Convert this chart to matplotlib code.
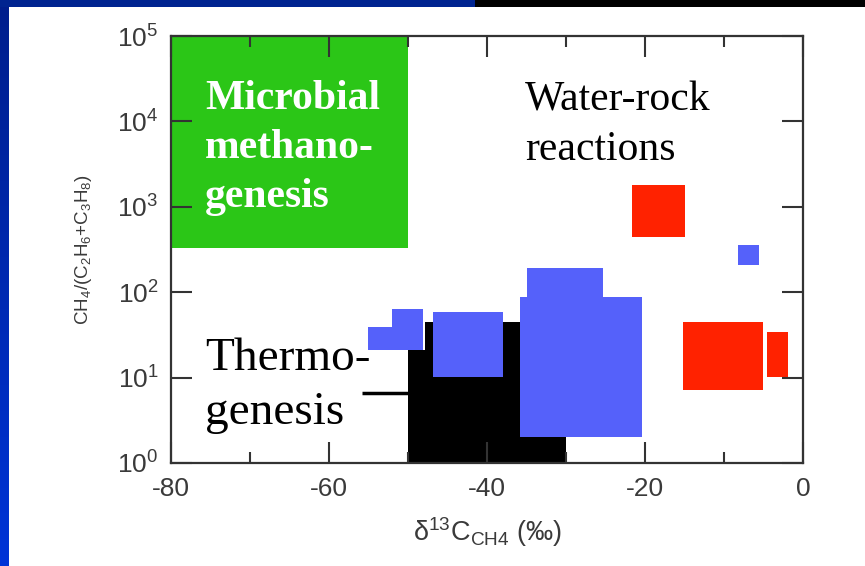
import numpy as np
import matplotlib.pyplot as plt
from matplotlib.patches import Rectangle
from matplotlib.ticker import FixedLocator, NullLocator

plt.rcParams['font.family'] = ['Liberation Sans', 'DejaVu Sans']
plt.rcParams['mathtext.fontset'] = 'custom'
plt.rcParams['mathtext.rm'] = 'Liberation Sans'
plt.rcParams['mathtext.it'] = 'Liberation Sans:italic'
plt.rcParams['axes.unicode_minus'] = False

# boxes: (x0, x1) in d13C, (lo, hi) in CH4/(C2H6+C3H8)
green_x = [-80, -50]
green_y = [330, 1e5]

black_x0 = [-50, -47.8, -35.8]
black_x1 = [-47.8, -35.8, -30]
black_lo = [1, 1, 1]
black_hi = [21, 45, 45]

blue_x0 = [-55.1, -52.0, -46.8, -35.8, -34.9, -8.2]
blue_x1 = [-48.1, -48.1, -38.0, -20.4, -25.3, -5.6]
blue_lo = [21, 21, 10.2, 2.0, 2.0, 210]
blue_hi = [39, 63, 59, 88, 190, 355]

red_x0 = [-21.6, -15.2, -4.6]
red_x1 = [-14.9, -5.1, -1.9]
red_lo = [443, 7.2, 10.2]
red_hi = [1810, 45, 34]

thermo_line_x = [-55.8, -50]
thermo_line_y = [6.6, 6.6]

x_ticks = [-80, -60, -40, -20, 0]
x_minor = [-70, -50, -30, -10]
y_ticks = [1, 10, 100, 1000, 1e4, 1e5]

W, H = 865, 566
fig = plt.figure(figsize=(W / 100, H / 100), dpi=100)
fig.patch.set_facecolor('white')

# slide frame
sax = fig.add_axes([0, 0, 9 / W, 1])
grad = np.linspace(0, 1, 256)[:, None]
top_c = np.array([0, 30, 140]) / 255
bot_c = np.array([0, 52, 215]) / 255
img = top_c[None, None, :] * (1 - grad[:, :, None]) + bot_c[None, None, :] * grad[:, :, None]
sax.imshow(img, aspect='auto')
sax.axis('off')
fig.patches.append(Rectangle((0, 1 - 7 / H), 475 / W, 7 / H, transform=fig.transFigure,
                             facecolor='#002490', edgecolor='none'))
fig.patches.append(Rectangle((475 / W, 1 - 7 / H), 1 - 475 / W, 7 / H, transform=fig.transFigure,
                             facecolor='black', edgecolor='none'))

ax = fig.add_axes([171 / W, 103 / H, 632 / W, 427 / H])
ax.set_yscale('log')

def boxes(x0, x1, lo, hi, color):
    x0 = np.array(x0); x1 = np.array(x1)
    lo = np.array(lo); hi = np.array(hi)
    ax.bar(x0, hi - lo, width=x1 - x0, bottom=lo, align='edge', color=color, linewidth=0)

boxes([green_x[0]], [green_x[1]], [green_y[0]], [green_y[1]], '#2bc617')
boxes(black_x0, black_x1, black_lo, black_hi, 'black')
boxes(blue_x0, blue_x1, blue_lo, blue_hi, '#5561fa')
boxes(red_x0, red_x1, red_lo, red_hi, '#ff2200')
ax.plot(thermo_line_x, thermo_line_y, color='black', lw=2.5, solid_capstyle='butt')

ax.set_xlim(-80, 0)
ax.set_ylim(1, 1e5)
ax.xaxis.set_major_locator(FixedLocator(x_ticks))
ax.xaxis.set_minor_locator(FixedLocator(x_minor))
ax.yaxis.set_major_locator(FixedLocator(y_ticks))
ax.yaxis.set_minor_locator(NullLocator())

spine_c = '#333333'
for s in ax.spines.values():
    s.set_color(spine_c)
    s.set_linewidth(1.6)
    s.set_zorder(5)
ax.tick_params(which='both', direction='in', top=True, right=True, color=spine_c, width=1.5,
               labelcolor='#3a3a3a', labelsize=19)
ax.tick_params(which='major', length=15)
ax.tick_params(which='minor', length=8)
ax.tick_params(axis='x', pad=10)
ax.tick_params(axis='y', pad=9)

ax.set_ylabel(r'CH$_4$/(C$_2$H$_6$+C$_3$H$_8$)', fontsize=13.5, color='#3a3a3a', labelpad=17)
ax.set_xlabel(r'δ$^{13}$C$_{\mathrm{CH4}}$ (‰)', fontsize=19.5, color='#3a3a3a', labelpad=10)

serif = ['Liberation Serif', 'DejaVu Serif']
fig.text(205 / W, 1 - 80 / H, 'Microbial\nmethano-\ngenesis', family=serif, fontsize=30,
         fontweight='bold', color='white', va='top', ha='left', linespacing=1.38)
fig.text(525 / W, 1 - 81 / H, 'Water-rock\nreactions', family=serif, fontsize=30,
         color='black', va='top', ha='left', linespacing=1.38)
fig.text(205 / W, 1 - 337 / H, 'Thermo-\ngenesis', family=serif, fontsize=34,
         color='black', va='top', ha='left', linespacing=1.38)

fig.savefig('out.png', dpi=100, facecolor=fig.get_facecolor())
